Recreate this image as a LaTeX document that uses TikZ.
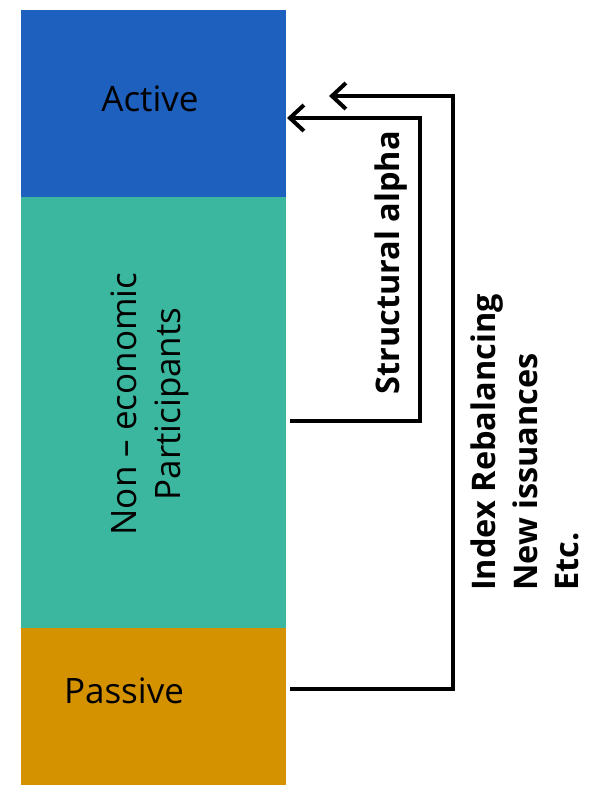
\documentclass[tikz,border=0pt]{standalone}
\usepackage{fontspec}
\setmainfont{Open Sans}
\usetikzlibrary{arrows.meta}

\definecolor{activeblue}{HTML}{1E60BD}
\definecolor{nonecoteal}{HTML}{3AB79E}
\definecolor{passiveorange}{HTML}{D49100}

\tikzset{
	band/.style={draw=none, inner sep=0pt, minimum width=265pt},
	bigtext/.style={font=\fontsize{35}{44}\selectfont, inner sep=0pt},
	boldtext/.style={font=\fontsize{32.5}{41.5}\selectfont\bfseries, inner sep=0pt},
	flow/.style={line width=4pt, -{Straight Barb[length=14pt,width=26pt,line width=4pt]}}
}

\begin{document}
\begin{tikzpicture}[x=1pt, y=-1pt]
			\useasboundingbox (0,0) rectangle (590,787);

			\node[band, fill=activeblue, minimum height=187pt] (active) at(153.5, 103.5){};
			\node[band, fill=nonecoteal, minimum height=431pt] (noneco) at(153.5, 412.5){};
			\node[band, fill=passiveorange, minimum height=157pt] (passive) at(153.5, 706.5){};

				\node[bigtext] (activelabel) at(150, 99){Active};
				\node[bigtext, rotate=90, align=center] (nonecolabel) at(150, 404){Non -- economic\\Participants};
				\node[bigtext] (passivelabel) at(124, 691){Passive};

			\coordinate (alphastart) at(290, 421);
			\coordinate (alphacorner) at(420, 118);
			\coordinate (alphatip) at(287, 118);
			\draw[flow] (alphastart) -| (alphacorner) to (alphatip);
				\node[boldtext, rotate=90] (alphalabel) at(391, 263){Structural alpha};

			\coordinate (indexstart) at(290, 689);
			\coordinate (indexcorner) at(453, 96);
			\coordinate (indextip) at(329, 96);
			\draw[flow] (indexstart) -| (indexcorner) to (indextip);
				\node[boldtext, rotate=90, align=left, anchor=north west] (indexlabel) at(471, 591){Index Rebalancing\\New issuances\\Etc.};

		\end{tikzpicture}
\end{document}
